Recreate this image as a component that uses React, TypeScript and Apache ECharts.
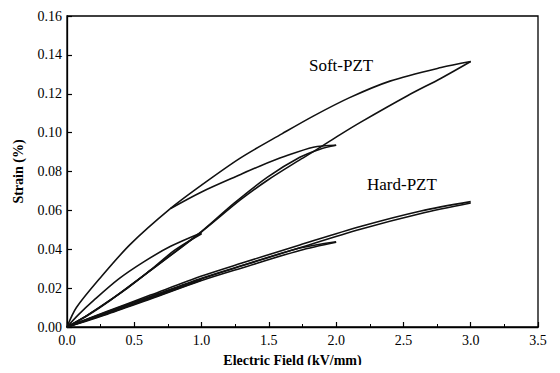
import React, { useEffect, useRef } from "react";
import * as echarts from "echarts";

// Soft-PZT loops (field kV/mm, strain %)
const softRise1 = [[0, 0], [0.15, 0.006], [0.32, 0.0138], [0.45, 0.02], [0.62, 0.0292], [0.8, 0.0395], [1.0, 0.048]];
const softReturn1 = [[1.0, 0.0485], [0.77, 0.0415], [0.57, 0.0335], [0.38, 0.0245], [0.2, 0.0138], [0.08, 0.006], [0, 0]];
const softRise2 = [[0, 0], [0.15, 0.006], [0.32, 0.0138], [0.62, 0.0292], [1.0, 0.0492], [1.24, 0.0636], [1.49, 0.0771], [1.73, 0.0873], [1.88, 0.0915], [2.0, 0.0935]];
const softReturn2 = [[2.0, 0.0935], [1.83, 0.0925], [1.62, 0.0878], [1.44, 0.083], [1.29, 0.0785], [1.0, 0.0695], [0.77, 0.061]];
const softRise3 = [[0, 0], [0.15, 0.0058], [0.32, 0.0136], [0.62, 0.029], [1.0, 0.049], [1.29, 0.0655], [1.49, 0.0755], [1.73, 0.086], [1.86, 0.0915], [2.03, 0.099], [2.18, 0.1053], [2.53, 0.119], [2.78, 0.128], [3.0, 0.1366]];
const softReturn3 = [[3.0, 0.1366], [2.78, 0.1335], [2.4, 0.1265], [2.1, 0.118], [1.83, 0.1085], [1.6, 0.0995], [1.29, 0.087], [1.0, 0.073], [0.77, 0.061], [0.47, 0.0425], [0.25, 0.0255], [0.07, 0.01], [0, 0]];

// Hard-PZT loops
const hardRise3 = [[0, 0], [0.3, 0.0069], [0.62, 0.015], [1.0, 0.0248], [1.3, 0.0315], [1.73, 0.0408], [2.18, 0.0503], [2.63, 0.0584], [3.0, 0.0638]];
const hardReturn3 = [[3.0, 0.0645], [2.63, 0.0597], [2.18, 0.0517], [1.73, 0.0422], [1.3, 0.0329], [1.0, 0.0262], [0.62, 0.0164], [0.3, 0.0081], [0, 0]];
const hardRise2 = [[0, 0], [0.3, 0.0066], [0.62, 0.0144], [1.0, 0.0239], [1.3, 0.0304], [1.73, 0.0394], [2.0, 0.0436]];
const hardReturn2 = [[2.0, 0.0439], [1.73, 0.0406], [1.3, 0.0316], [1.0, 0.0251], [0.62, 0.0156], [0.3, 0.0076], [0, 0]];
const hardRise1 = [[0, 0], [0.5, 0.0118], [1.0, 0.0242]];
const hardReturn1 = [[1.0, 0.0246], [0.5, 0.0128], [0, 0]];

const branches = [softRise1, softReturn1, softRise2, softReturn2, softRise3, softReturn3, hardRise3, hardReturn3, hardRise2, hardReturn2, hardRise1, hardReturn1];

const xMin = 0, xMax = 3.5, xStep = 0.5;
const yMin = 0, yMax = 0.16, yStep = 0.02;

const FONT = "Times New Roman, Liberation Serif, DejaVu Serif, serif";

export default function App() {
  const ref = useRef<HTMLDivElement>(null);
  useEffect(() => {
    if (!ref.current) return;
    const chart = echarts.init(ref.current, null, { renderer: "svg" });
    const axisCommon = {
      axisLine: { show: true, lineStyle: { color: "#000", width: 1.3 } },
      axisTick: { show: true, inside: true, length: 5, lineStyle: { color: "#000", width: 1.2 } },
      minorTick: { show: true, splitNumber: 2, length: 3, lineStyle: { color: "#000", width: 1 } },
      splitLine: { show: false },
    };
    chart.setOption({
      animation: false,
      backgroundColor: "#fff",
      textStyle: { fontFamily: FONT },
      grid: { left: 67, right: 22, top: 16, bottom: 46, show: true, borderColor: "#000", borderWidth: 1.3 },
      xAxis: {
        type: "value", min: xMin, max: xMax, interval: xStep,
        ...axisCommon,
        axisLabel: { color: "#000", fontFamily: FONT, fontSize: 14, margin: 6, formatter: (v: number) => v.toFixed(1) },
        name: "Electric Field (kV/mm)", nameLocation: "middle", nameGap: 26,
        nameTextStyle: { color: "#000", fontFamily: FONT, fontSize: 14, fontWeight: "bold", padding: [0, 20, 0, 0] },
      },
      yAxis: {
        type: "value", min: yMin, max: yMax, interval: yStep,
        ...axisCommon,
        minorTick: { show: false },
        axisLabel: { color: "#000", fontFamily: FONT, fontSize: 14, margin: 5, formatter: (v: number) => v.toFixed(2) },
        name: "Strain (%)", nameLocation: "middle", nameGap: 42, nameRotate: 90,
        nameTextStyle: { color: "#000", fontFamily: FONT, fontSize: 14, fontWeight: "bold" },
      },
      series: branches.map((d) => ({
        type: "line", data: d, showSymbol: false, smooth: 0.3,
        lineStyle: { color: "#111", width: 1.6 },
      })),
      graphic: [
        { type: "text", left: 309, top: 57, style: { text: "Soft-PZT", fontFamily: FONT, fontSize: 17, fill: "#000" } },
        { type: "text", left: 367, top: 176, style: { text: "Hard-PZT", fontFamily: FONT, fontSize: 17, fill: "#000" } },
      ],
    });
    return () => chart.dispose();
  }, []);
  return <div ref={ref} style={{ width: 560, height: 373, margin: -8 }} />;
}
